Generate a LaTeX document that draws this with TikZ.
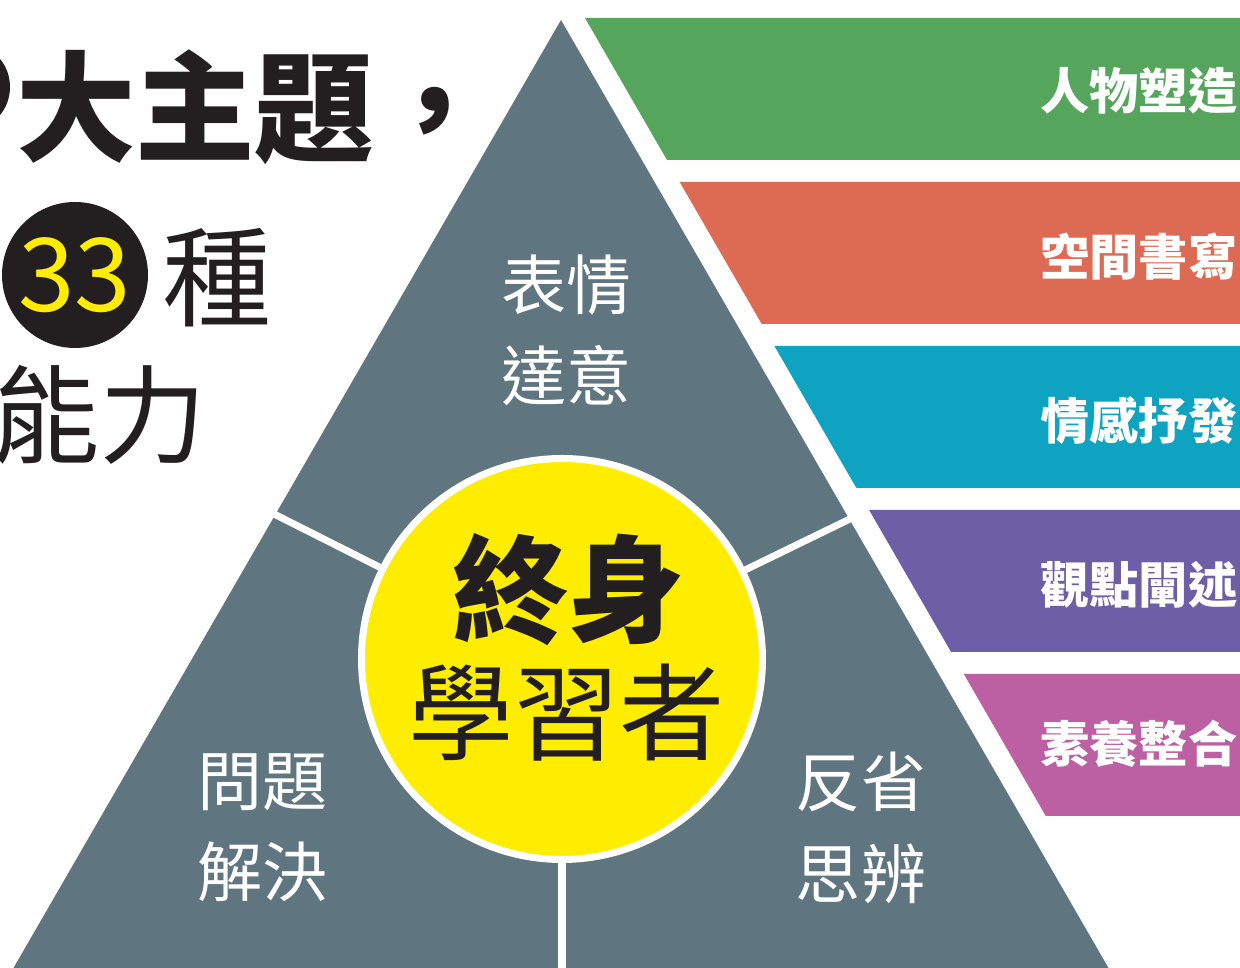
\documentclass[tikz,border=0pt]{standalone}
\usepackage{fontspec}
\setmainfont{Noto Sans CJK TC}
\definecolor{slate}{HTML}{5F7580}
\definecolor{lemon}{HTML}{FFED00}
\definecolor{ink}{HTML}{231F20}
\definecolor{leaf}{HTML}{55A55D}
\definecolor{brick}{HTML}{DD6B53}
\definecolor{sea}{HTML}{0FA3C2}
\definecolor{grape}{HTML}{6D5FA6}
\definecolor{orchid}{HTML}{BD5FA3}
\tikzset{
 divider/.style={draw=white, line width=0.07cm},
 facet/.style={text=white, align=center, inner sep=0pt, font=\fontsize{18.5}{26}\selectfont},
 bandtext/.style={text=white, anchor=east, inner sep=0pt, font=\bfseries\fontsize{14}{16}\selectfont},
}
\begin{document}
\begin{tikzpicture}
 \useasboundingbox (0,0) rectangle (12.4,-9.68);
 \clip (0,0) rectangle (12.4,-9.68);

 % the big triangle
 \coordinate (apex) at (5.61,-0.20);
 \coordinate (baseL) at (-0.05,-10.0);
 \coordinate (baseR) at (11.27,-10.0);
 \fill[slate] (apex) -- (baseL) -- (baseR) -- cycle;

 % five bands
 \fill[leaf] (5.850,-0.18) -- (12.5,-0.18) -- (12.5,-1.60) -- (6.670,-1.60) -- cycle;
 \fill[brick] (6.797,-1.82) -- (12.5,-1.82) -- (12.5,-3.24) -- (7.617,-3.24) -- cycle;
 \fill[sea] (7.744,-3.46) -- (12.5,-3.46) -- (12.5,-4.88) -- (8.564,-4.88) -- cycle;
 \fill[grape] (8.691,-5.10) -- (12.5,-5.10) -- (12.5,-6.52) -- (9.511,-6.52) -- cycle;
 \fill[orchid] (9.638,-6.74) -- (12.5,-6.74) -- (12.5,-8.16) -- (10.458,-8.16) -- cycle;

 \node[bandtext] (role) at (12.38,-0.91) {人物塑造};
 \node[bandtext] (space) at (12.38,-2.57) {空間書寫};
 \node[bandtext] (feel) at (12.38,-4.21) {情感抒發};
 \node[bandtext] (view) at (12.38,-5.85) {觀點闡述};
 \node[bandtext] (merge) at (12.38,-7.44) {素養整合};

 % centre circle and the three cuts
 \node[circle, fill=lemon, draw=white, line width=0.07cm, minimum size=4.01cm, inner sep=0pt] (core) at (5.62,-6.59) {};
 \coordinate (cutL) at (2.70,-5.12);
 \coordinate (cutR) at (8.52,-5.18);
 \coordinate (cutB) at (5.62,-9.90);
 \path [divider] (cutL) edge (core);
 \path [divider] (cutR) edge (core);
 \path [divider] (cutB) edge (core);

 \node[font=\bfseries\fontsize{33}{36}\selectfont, text=ink] (life) at (5.68,-5.90) {終身};
 \node[font=\fontsize{30}{34}\selectfont, text=ink] (learner) at (5.67,-7.13) {學習者};

 \node[facet] (express) at (5.67,-3.30) {表情\\達意};
 \node[facet] (solve) at (2.63,-8.28) {問題\\解決};
 \node[facet] (reflect) at (8.61,-8.28) {反省\\思辨};

 % heading at the top left
 \fill[ink] (-0.25,-0.87) ellipse [x radius=0.35, y radius=0.40];
 \node[font=\bfseries\fontsize{34}{40}\selectfont, text=ink] (title) at (2.55,-1.07) {大主題，};
 \node[circle, fill=ink, minimum size=1.46cm, inner sep=0pt, text=lemon, font=\fontsize{29}{32}\selectfont] (count) at (0.75,-2.75) {33};
 \node[font=\fontsize{31}{34}\selectfont, text=ink] (kind) at (2.17,-2.78) {種};
 \node[font=\fontsize{30.5}{34}\selectfont, text=ink] (skill) at (1.00,-4.15) {能力};
\end{tikzpicture}
\end{document}
